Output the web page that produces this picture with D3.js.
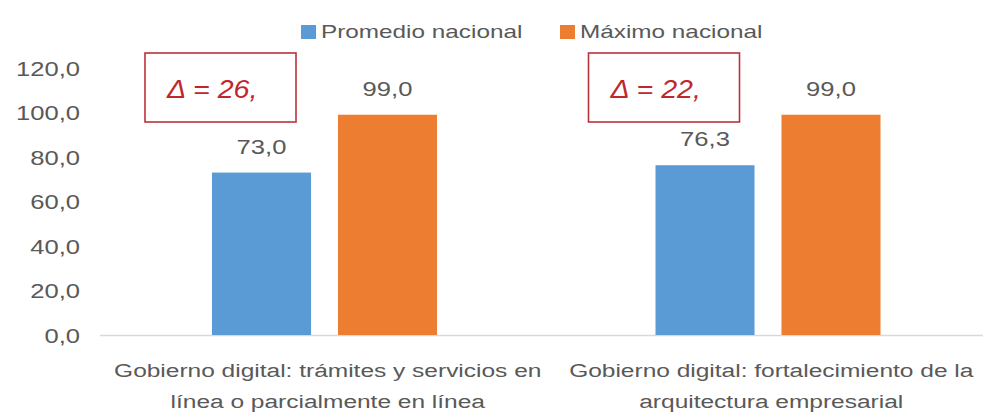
<!DOCTYPE html>
<html>
<head>
<meta charset="utf-8">
<script src="https://cdn.jsdelivr.net/npm/d3@7"></script>
<style>
  html, body { margin: 0; padding: 0; background: #fff; }
  svg { display: block; font-family: "Liberation Sans", Arial, sans-serif; }
</style>
</head>
<body>
<svg id="chart" width="983" height="412"></svg>
<script>
const categories = [
  ["Gobierno digital: trámites y servicios en", "línea o parcialmente en línea"],
  ["Gobierno digital: fortalecimiento de la", "arquitectura empresarial"]
];
const categoryKeys = ["tramites", "arquitectura"];
const seriesNames = ["Promedio nacional", "Máximo nacional"];
const promedio = [73.0, 76.3];
const maximo = [99.0, 99.0];
const deltaLabels = ["Δ = 26,", "Δ = 22,"];
const yTicks = [0, 20, 40, 60, 80, 100, 120];
const colors = ["#5b9bd5", "#ed7d31"];

const SX = 1.28;
const textColor = "#595959";
const svg = d3.select("#chart");
const fmt = v => v.toFixed(1).replace(".", ",");

const y = d3.scaleLinear().domain([0, 120]).range([335, 68]);
const x0 = d3.scaleBand().domain(categoryKeys).range([103, 990]).paddingInner(0).paddingOuter(0);
const x1 = d3.scaleBand().domain(seriesNames).range([109, 334]).paddingInner(0.214).paddingOuter(0);

// Y axis (labels only)
const yAxis = svg.append("g").attr("transform", "translate(80,0)")
  .call(d3.axisLeft(y).tickValues(yTicks).tickSize(0).tickFormat(fmt));
yAxis.select(".domain").remove();
yAxis.selectAll("text")
  .attr("x", 0).attr("dy", "0.36em")
  .attr("fill", textColor).attr("font-size", 20)
  .attr("font-family", "Liberation Sans, Arial, sans-serif")
  .attr("text-anchor", "end")
  .attr("transform", `scale(${SX},1)`);

// X axis baseline
const xAxis = svg.append("g").attr("transform", `translate(0,${y(0)})`)
  .call(d3.axisBottom(x0).tickSize(0).tickFormat(""));
xAxis.select(".domain").attr("stroke", "#d9d9d9").attr("stroke-width", 1.5)
  .attr("d", `M100,0.5H983`);

// Category labels
categoryKeys.forEach((k, i) => {
  const cx = x0(k) + x0.bandwidth() / 2 + 3;
  categories[i].forEach((line, j) => {
    svg.append("text")
      .attr("transform", `translate(${cx},${377 + j * 31}) scale(1.29,1)`)
      .attr("text-anchor", "middle")
      .attr("font-size", 19)
      .attr("fill", textColor)
      .text(line);
  });
});

// Bars
const data = categoryKeys.map((k, i) => ({ key: k, values: [promedio[i], maximo[i]] }));
const groups = svg.append("g").selectAll("g").data(data).join("g")
  .attr("transform", d => `translate(${x0(d.key)},0)`);

groups.selectAll("rect")
  .data(d => d.values.map((v, i) => ({ name: seriesNames[i], v, i })))
  .join("rect")
  .attr("x", d => x1(d.name))
  .attr("width", x1.bandwidth())
  .attr("y", d => y(d.v))
  .attr("height", d => y(0) - y(d.v))
  .attr("fill", d => colors[d.i]);

groups.selectAll("text.val")
  .data(d => d.values.map((v, i) => ({ name: seriesNames[i], v, i })))
  .join("text")
  .attr("class", "val")
  .attr("transform", d => `translate(${x1(d.name) + x1.bandwidth() / 2},${y(d.v) - 19}) scale(${SX},1)`)
  .attr("text-anchor", "middle")
  .attr("font-size", 20)
  .attr("fill", textColor)
  .text(d => fmt(d.v));

// Delta annotation boxes
groups.each(function(d, i) {
  const g = d3.select(this);
  g.append("rect")
    .attr("x", 42).attr("y", 53)
    .attr("width", 151).attr("height", 69)
    .attr("fill", "#fff")
    .attr("stroke", "#b8323a").attr("stroke-width", 1.6);
  g.append("text")
    .attr("transform", `translate(64,98) scale(1.1,1)`)
    .attr("font-size", 26)
    .attr("font-style", "italic")
    .attr("fill", "#c0272d")
    .text(deltaLabels[i]);
});

// Legend
const legendX = [301, 560];
seriesNames.forEach((name, i) => {
  svg.append("rect")
    .attr("x", legendX[i]).attr("y", 25)
    .attr("width", 15).attr("height", 14)
    .attr("fill", colors[i]);
  svg.append("text")
    .attr("transform", `translate(${legendX[i] + 20},38) scale(${SX},1)`)
    .attr("font-size", 19)
    .attr("fill", textColor)
    .text(name);
});
</script>
</body>
</html>
